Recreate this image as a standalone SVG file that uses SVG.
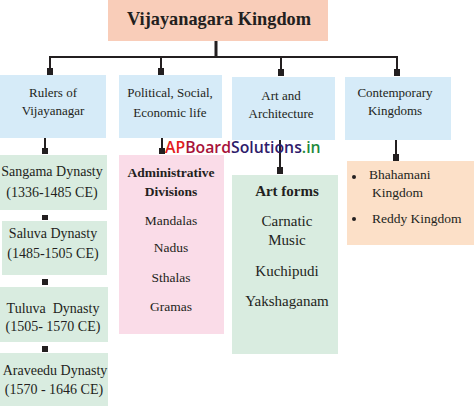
<svg xmlns="http://www.w3.org/2000/svg" width="474" height="408" viewBox="0 0 474 408">
<style>
text{font-family:"Liberation Serif","Times New Roman",serif;fill:#231f20;text-anchor:middle}
.l{text-anchor:start}
.s13{font-size:13px}
.s14{font-size:14px}
.s135{font-size:13.5px}
.s15{font-size:15px}
.b{font-weight:bold}
.blue{fill:#d6ebf8}
.green{fill:#d9ece0}
.ln{stroke:#231f20;stroke-width:2;fill:none}
.sq{fill:#231f20}
text.wm{font-family:"Open Sans","DejaVu Sans",sans-serif;font-size:15.8px;font-weight:600;text-anchor:start}
</style>
<rect width="474" height="408" fill="#ffffff"/>
<g id="connectors">
  <line x1="216" y1="41" x2="216" y2="57" stroke="#231f20" stroke-width="3"/>
  <polyline class="ln" points="50,74 50,57 397,57 397,74"/>
  <line class="ln" x1="161" y1="57" x2="161" y2="74"/>
  <line class="ln" x1="281" y1="57" x2="281" y2="76"/>
  <rect class="sq" x="47" y="68" width="6" height="7"/>
  <rect class="sq" x="158" y="68" width="6" height="7"/>
  <rect class="sq" x="278" y="69" width="6" height="7"/>
  <rect class="sq" x="394" y="69" width="6" height="7"/>
  <line class="ln" x1="45" y1="138" x2="45" y2="154"/>
  <rect class="sq" x="42" y="148" width="6" height="6"/>
  <rect class="sq" x="42" y="215" width="6" height="5"/>
  <rect class="sq" x="42" y="279" width="6" height="6"/>
  <rect class="sq" x="42" y="346" width="6" height="6"/>
  <line class="ln" x1="162" y1="138" x2="162" y2="154"/>
  <rect class="sq" x="159" y="148" width="6" height="6"/>
  <line class="ln" x1="280" y1="140" x2="280" y2="174"/>
  <rect class="sq" x="277" y="167" width="6" height="7"/>
  <line class="ln" x1="396" y1="140" x2="396" y2="161"/>
  <rect class="sq" x="393" y="154" width="6" height="7"/>
</g>
<g id="title">
  <rect x="108" y="0" width="220" height="41" fill="#f9cdb9"/>
  <text class="b" x="219" y="25" font-size="19.5" textLength="184" lengthAdjust="spacingAndGlyphs">Vijayanagara Kingdom</text>
</g>
<g id="rulers">
  <rect class="blue" x="0" y="75" width="106" height="63"/>
  <text class="s13" x="53" y="97">Rulers of</text>
  <text class="s13" x="53" y="115">Vijayanagar</text>
</g>
<g id="political">
  <rect class="blue" x="119" y="75" width="103" height="63"/>
  <text class="s13" x="170" y="97">Political, Social,</text>
  <text class="s13" x="170" y="117">Economic life</text>
</g>
<g id="art">
  <rect class="blue" x="232" y="77" width="103" height="63"/>
  <text class="s13" x="281" y="100">Art and</text>
  <text class="s13" x="281" y="118">Architecture</text>
</g>
<g id="contemporary">
  <rect class="blue" x="345" y="77" width="106" height="63"/>
  <text class="s13" x="395" y="97">Contemporary</text>
  <text class="s13" x="395" y="115">Kingdoms</text>
</g>
<g id="sangama">
  <rect class="green" x="0" y="155" width="107" height="55"/>
  <text class="s14" x="52" y="176">Sangama Dynasty</text>
  <text class="s14" x="52" y="197">(1336-1485 CE)</text>
</g>
<g id="saluva">
  <rect class="green" x="2" y="221" width="105" height="54"/>
  <text class="s14" x="53" y="238">Saluva Dynasty</text>
  <text class="s14" x="53" y="258">(1485-1505 CE)</text>
</g>
<g id="tuluva">
  <rect class="green" x="0" y="287" width="108" height="55"/>
  <text class="s14" x="53" y="313" xml:space="preserve">Tuluva  Dynasty</text>
  <text class="s14" x="53" y="331">(1505- 1570 CE)</text>
</g>
<g id="araveedu">
  <rect class="green" x="0" y="353" width="108" height="53"/>
  <text class="s14" x="55" y="375">Araveedu Dynasty</text>
  <text class="s14" x="54" y="394">(1570 - 1646 CE)</text>
</g>
<g id="admin">
  <rect x="119" y="155" width="105" height="179" fill="#fadce8"/>
  <text class="s135 b" x="171" y="177">Administrative</text>
  <text class="s135 b" x="171" y="196">Divisions</text>
  <text class="s135" x="171" y="225">Mandalas</text>
  <text class="s135" x="171" y="252">Nadus</text>
  <text class="s135" x="171" y="282">Sthalas</text>
  <text class="s135" x="171" y="311">Gramas</text>
</g>
<g id="artforms">
  <rect class="green" x="232" y="175" width="106" height="179"/>
  <text class="s15 b" x="287" y="196">Art forms</text>
  <text class="s15" x="287" y="226">Carnatic</text>
  <text class="s15" x="287" y="245">Music</text>
  <text class="s15" x="287" y="276">Kuchipudi</text>
  <text class="s15" x="287" y="306">Yakshaganam</text>
</g>
<g id="kingdoms">
  <rect x="347" y="161" width="127" height="84" fill="#fce0c8"/>
  <circle cx="354" cy="177" r="2" fill="#231f20"/>
  <circle cx="354" cy="219" r="2" fill="#231f20"/>
  <text class="s135 l" x="369" y="179">Bhahamani</text>
  <text class="s135 l" x="372" y="197">Kingdom</text>
  <text class="s135 l" x="372" y="223">Reddy Kingdom</text>
</g>
<g id="watermark">
  <text class="wm" x="165" y="153"><tspan style="fill:#e3201b">AP</tspan><tspan style="fill:#a8123a">Board</tspan><tspan style="fill:#2f1b6b">Solutions</tspan><tspan style="fill:#1f8a3c">.in</tspan></text>
</g>
</svg>
